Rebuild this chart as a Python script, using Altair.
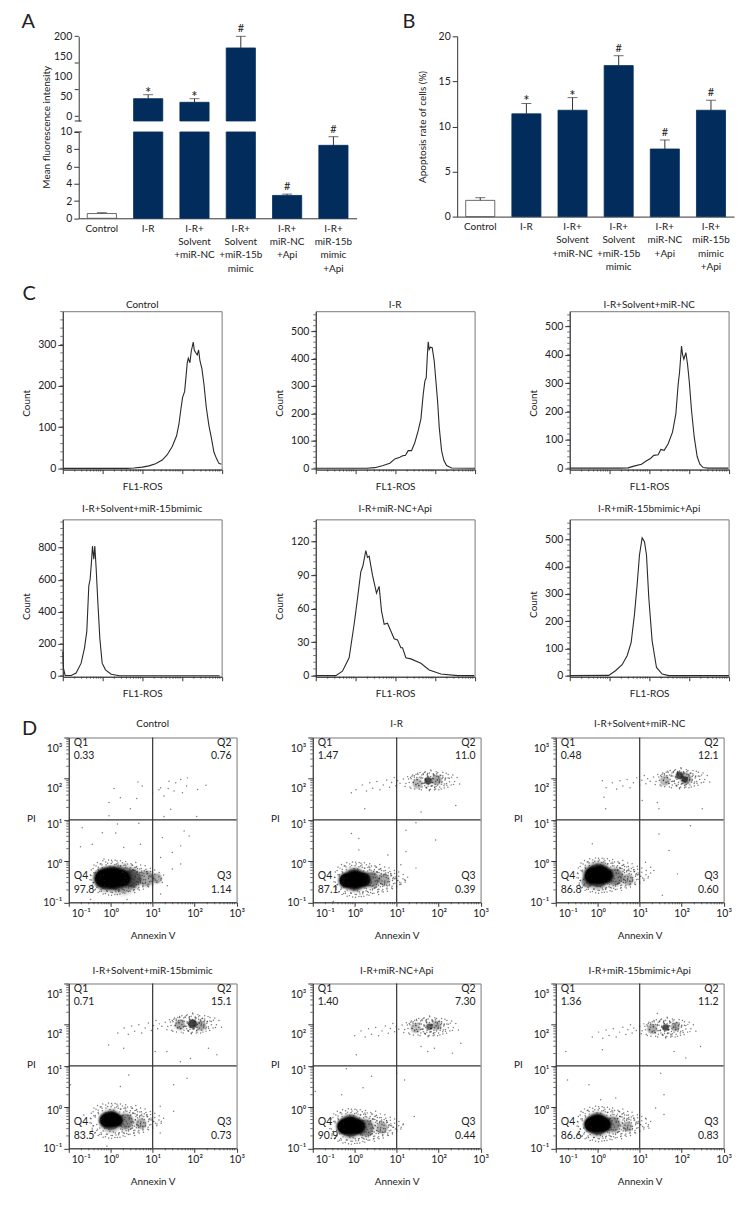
import math
import altair as alt
import pandas as pd

FONT = "Lato"
FS = 10
TICK_FS = 10.5
DARK = "#333333"
TXT = "#222222"
NAVY = "#022c5c"
FRAME = "#777777"

# ---------- panels A and B ----------
groups = ["Control", "I-R", "I-R+|Solvent|+miR-NC", "I-R+|Solvent|+miR-15b|mimic",
          "I-R+|miR-NC|+Api", "I-R+|miR-15b|mimic|+Api"]
a_mean = [0.55, 44, 35, 171, 2.65, 8.45]
a_err = [0.65, 54, 44, 200, 2.8, 9.45]
a_sig = ["", "*", "*", "#", "#", "#"]
b_mean = [1.8, 11.4, 11.8, 16.75, 7.5, 11.8]
b_err = [2.1, 12.55, 13.2, 17.85, 8.5, 12.9]
b_sig = ["", "*", "*", "#", "#", "#"]
a_upper_labels = [0, 50, 100, 150, 200]
a_upper_marks = [0, 66.7, 133.3, 200]
ROW1_TOP = 25.7


def left_y(title=None, **kw):
    return alt.Axis(title=title, domainColor=DARK, tickColor=DARK, labelPadding=2, tickSize=5, **kw)


def x_band(show):
    ax = alt.Axis(title=None, labelAngle=0, ticks=False, labelPadding=5, labelExpr="split(datum.label,'|')",
                  labelLineHeight=13.4, labelLimit=0, labelOverlap=False, domainColor=DARK, labelFontSize=FS) if show else None
    return alt.X("g:N", sort=groups, axis=ax,
                 scale=alt.Scale(domain=groups, paddingInner=0.37, paddingOuter=0.185))


def make_bar_panel(df, err_df, yscale, yaxis, w, h, show_x, y2_datum=None, extra=None):
    x_ax = x_band(show_x)
    enc = dict(x=x_ax, y=alt.Y("v:Q", scale=yscale, axis=yaxis),
               fill=alt.condition("datum.g=='Control'", alt.value("white"), alt.value(NAVY)),
               stroke=alt.condition("datum.g=='Control'", alt.value("#444444"), alt.value(NAVY)))
    if y2_datum is not None:
        enc["y2"] = alt.Y2(datum=y2_datum)
    layers = [alt.Chart(df).mark_bar(strokeWidth=0.8).encode(**enc)]
    ey = alt.Y("v:Q", scale=yscale, axis=yaxis)
    ey2 = alt.Y("e:Q", scale=yscale, axis=yaxis)
    layers.append(alt.Chart(err_df).mark_rule(color=DARK, strokeWidth=1).encode(
        x=x_ax, y=ey, y2=alt.Y2("e:Q")))
    layers.append(alt.Chart(err_df).mark_tick(color=DARK, size=10, thickness=1, orient="horizontal").encode(
        x=x_ax, y=ey2))
    sig = err_df[err_df["s"] != ""]
    layers.append(alt.Chart(sig[sig["s"] == "#"]).mark_text(font=FONT, fontSize=11, color=TXT, dy=-7).encode(
        x=x_ax, y=ey2, text="s:N"))
    layers.append(alt.Chart(sig[sig["s"] == "*"]).mark_text(font=FONT, fontSize=15, color=TXT, dy=-2).encode(
        x=x_ax, y=ey2, text="s:N"))
    if extra:
        layers += extra
    return alt.layer(*layers).properties(width=w, height=h)


def ghost(x1, x2, y1, y2):
    return alt.Chart(pd.DataFrame({"k": [0]})).mark_rule(opacity=0, strokeWidth=0).encode(
        x=alt.value(x1), x2=alt.value(x2), y=alt.value(y1), y2=alt.value(y2))


def break_tick(y):
    return alt.Chart(pd.DataFrame({"k": [0]})).mark_rule(color=DARK).encode(
        x=alt.value(-4), x2=alt.value(3), y=alt.value(y))


def letter(txt, x, y):
    return alt.Chart(pd.DataFrame({"k": [txt]})).mark_text(
        font=FONT, fontSize=20, color=TXT, align="left", baseline="middle").encode(
        x=alt.value(x), y=alt.value(y), text="k:N")


def caption(txt, x, y, angle=0):
    return alt.Chart(pd.DataFrame({"k": [txt]})).mark_text(
        font=FONT, fontSize=FS, color=TXT, align="center", baseline="middle", angle=angle).encode(
        x=alt.value(x), y=alt.value(y), text="k:N")


def spacer(w, top, bottom, *more):
    return alt.layer(ghost(0, w, -top, bottom), *more).properties(width=w, height=10)


dfa = pd.DataFrame({"g": groups, "v": a_mean, "e": a_err, "s": a_sig})
dfb = pd.DataFrame({"g": groups, "v": b_mean, "e": b_err, "s": b_sig})

up_scale = alt.Scale(domain=[-11.75, 200], nice=False, zero=False)
up_axis = alt.Axis(title=None, values=a_upper_labels, ticks=False, labelPadding=7, domainColor=DARK)
up_marks = alt.Chart(pd.DataFrame({"m": a_upper_marks})).mark_rule(color=DARK).encode(
    x=alt.value(-4), x2=alt.value(0), y=alt.Y("m:Q", scale=up_scale, axis=up_axis))
a_upper = make_bar_panel(dfa[dfa.v > 10], dfa[dfa.v > 10], up_scale, up_axis, 279, 85, False, y2_datum=-11.75,
                         extra=[up_marks, break_tick(85), ghost(-26, 291, -ROW1_TOP, 85)])
lo_scale = alt.Scale(domain=[0, 10], nice=False, clamp=True)
lo_axis = left_y(None, values=[0, 2, 4, 6, 8, 10])
a_lower = make_bar_panel(dfa, dfa[dfa.v <= 10], lo_scale, lo_axis, 279, 86.7, True,
                         extra=[break_tick(0), ghost(-26, 291, -9.3, 149)])
panel_a = alt.vconcat(a_upper, a_lower, spacing=0)

b_scale = alt.Scale(domain=[0, 20], nice=False)
b_axis = left_y(None, values=[0, 5, 10, 15, 20])
panel_b = make_bar_panel(dfb, dfb, b_scale, b_axis, 278, 181, True,
                         extra=[ghost(-89, 288, -ROW1_TOP, 243.3), letter("B", -55, -14),
                                caption("Apoptosis rate of cells (%)", -34, 91, angle=270)])
row1 = alt.concat(
    spacer(45, ROW1_TOP, 243.3, letter("A", 13.5, -14), caption("Mean fluorescence intensity", 38.7, 91.3, angle=270)),
    panel_a, panel_b, columns=3, spacing=0, align="none")

# ---------- panel C: histograms, x is channel position along the log axis ----------
c1_x = [3, 193, 213, 238, 258, 278, 298, 313, 328, 341, 348, 354, 359, 365, 369, 373, 376, 381, 385, 391, 394, 398, 403, 407, 411, 417, 423, 430, 438, 445, 453, 461, 468, 475]
c1_y = [0, 0, 1, 3, 6, 11, 20, 33, 53, 79, 107, 144, 172, 186, 220, 256, 267, 256, 284, 306, 287, 281, 275, 287, 261, 241, 204, 148, 103, 75, 39, 23, 12, 10]
c2_x = [2, 152, 177, 202, 222, 237, 252, 262, 269, 277, 287, 297, 307, 315, 322, 327, 331, 334, 337, 340, 344, 349, 355, 360, 365, 370, 377, 384, 392, 407, 477]
c2_y = [0, 0, 2, 10, 18, 34, 40, 46, 47, 64, 64, 94, 137, 179, 270, 318, 330, 403, 461, 433, 442, 440, 391, 318, 246, 149, 64, 28, 10, 1, 0]
c3_x = [2, 150, 175, 195, 215, 230, 242, 252, 265, 273, 283, 295, 308, 318, 325, 329, 335, 338, 342, 348, 353, 358, 365, 373, 382, 390, 400, 415, 475]
c3_y = [0, 0, 1, 8, 14, 26, 34, 45, 47, 66, 63, 86, 127, 191, 296, 337, 430, 401, 384, 407, 366, 308, 203, 110, 40, 14, 2, 0, 0]
c4_x = [0, 2, 7, 25, 40, 55, 65, 72, 78, 82, 86, 89, 93, 96, 100, 105, 111, 118, 128, 145, 170, 470]
c4_y = [152, 48, 2, 2, 17, 79, 173, 277, 562, 603, 713, 811, 728, 811, 672, 464, 235, 79, 37, 10, 0, 0]
c5_x = [0, 60, 80, 100, 115, 125, 135, 141, 150, 155, 160, 170, 182, 190, 197, 205, 215, 225, 235, 245, 255, 260, 270, 285, 315, 340, 375, 425, 475]
c5_y = [0, 0, 4, 16, 46, 69, 93, 98, 112, 106, 107, 90, 74, 80, 58, 46, 47, 40, 33, 32, 25, 25, 16, 15, 11, 5, 1.5, 0, 0]
c6_x = [2, 117, 137, 157, 172, 184, 194, 202, 209, 217, 224, 230, 237, 247, 260, 277, 297, 477]
c6_y = [0, 1, 18, 40, 73, 121, 225, 334, 443, 506, 492, 443, 285, 127, 30, 6, 0, 0]

C_W, C_DEC = 159.5, 119
c_major_x = [0, 119, 238, 357, 476]
c_minor_x = [d * C_DEC + C_DEC * math.log10(k) for d in range(4) for k in range(2, 10)]


def hist(title, xs, ys, ydom, major, minor_step, h, title_y, count_y, extra=None):
    sx = alt.Scale(domain=[0, 476], nice=False, zero=False)
    sy = alt.Scale(domain=ydom, nice=False, zero=False)
    xax = alt.Axis(title="FL1-ROS", values=c_major_x, labels=False, tickSize=4, tickColor=DARK, domainColor=DARK,
                   titleY=17, titleBaseline="middle")
    yax = left_y("Count", values=major, titleX=-36, titleY=count_y, titleBaseline="middle", titleAngle=-90)
    X = alt.X("x:Q", scale=sx, axis=xax)
    Y = alt.Y("y:Q", scale=sy, axis=yax)
    line = alt.Chart(pd.DataFrame({"x": xs, "y": ys})).mark_line(color="#2a2a2a", strokeWidth=1.1).encode(x=X, y=Y)
    minor_y = [v for v in [i * minor_step for i in range(0, 40)] if v <= ydom[1]]
    xm = alt.Chart(pd.DataFrame({"x": c_minor_x})).mark_rule(color=DARK, strokeWidth=0.7).encode(
        x=X, y=alt.value(h), y2=alt.value(h + 2))
    ym = alt.Chart(pd.DataFrame({"y": minor_y})).mark_rule(color=DARK, strokeWidth=0.7).encode(
        y=Y, x=alt.value(-2.5), x2=alt.value(0))
    layers = [line, xm, ym, caption(title, C_W / 2, title_y)] + (extra or [])
    return alt.layer(*layers).properties(width=C_W, height=h, view=alt.ViewBackground(stroke=FRAME))


def cells(left, right, top, bottom, *more):
    return [ghost(-left, right, -top, bottom)] + list(more)


c_cols = [(52, 208), (44, 206), (46.7, 178.3)]
row_c1 = alt.concat(
    spacer(2, 30, 185),
    hist("Control", c1_x, c1_y, [-3, 381], [0, 100, 200, 300], 20, 159, -6, 92,
         extra=cells(c_cols[0][0], c_cols[0][1], 30, 185, letter("C", -40.5, -17.5))),
    hist("I-R", c2_x, c2_y, [-5, 573], [0, 100, 200, 300, 400, 500], 20, 159, -6, 92,
         extra=cells(c_cols[1][0], c_cols[1][1], 30, 185)),
    hist("I-R+Solvent+miR-NC", c3_x, c3_y, [-5, 553], [0, 100, 200, 300, 400, 500], 20, 159, -6, 92,
         extra=cells(c_cols[2][0], c_cols[2][1], 30, 185)),
    columns=4, spacing=0, align="none")
row_c2 = alt.concat(
    spacer(2, 22.5, 192.5),
    hist("I-R+Solvent+miR-15bmimic", c4_x, c4_y, [-6, 977], [0, 200, 400, 600, 800], 40, 158, -10, 87,
         extra=cells(c_cols[0][0], c_cols[0][1], 22.5, 192.5)),
    hist("I-R+miR-NC+Api", c5_x, c5_y, [-1, 140], [0, 30, 60, 90, 120], 6, 158, -10, 87,
         extra=cells(c_cols[1][0], c_cols[1][1], 22.5, 192.5)),
    hist("I-R+miR-15bmimic+Api", c6_x, c6_y, [-4, 574], [0, 100, 200, 300, 400, 500], 20, 158, -10, 85,
         extra=cells(c_cols[2][0], c_cols[2][1], 22.5, 192.5)),
    columns=4, spacing=0, align="none")

# ---------- panel D: quadrant scatter plots, log10 units ----------
blob_grain = [(-.47, .05), (-.44, -.18), (-.42, .22), (-.38, -.3), (-.35, .28), (-.3, -.36), (-.25, .33), (-.18, -.4), (-.12, .38), (-.05, -.42), (.02, .42), (.1, -.41), (.15, .4), (.22, -.4), (.28, .36), (.34, -.38), (.4, .33), (.46, -.33), (.52, .3), (.57, -.36), (.62, .27), (.68, -.3), (.73, .22), (.78, -.28), (.84, .2), (.9, -.22), (.95, .15), (1.0, -.18), (1.05, .08), (1.1, -.12), (1.15, .02), (.6, .1), (.75, .05), (.9, -.02), (.66, -.12), (.82, -.14), (.98, .02), (.5, -.18), (.45, .2), (.35, .24), (-.4, .12), (-.46, -.06), (1.2, -.06), (.72, .13), (.55, -.24), (.88, .1), (.3, -.29), (.18, .3), (-.22, -.33), (-.3, .2)]
blob_fill = [(-.41, -.12), (-.37, .09), (-.33, -.24), (-.29, .17), (-.26, -.03), (-.23, -.29), (-.2, .24), (-.17, .07), (-.14, -.19), (-.11, .31), (-.08, -.33), (-.05, .2), (-.02, -.26), (.01, .34), (.04, -.36), (.07, .26), (.11, -.3), (.14, .33), (.19, -.34), (.23, .28), (.27, -.27), (.31, .21), (.33, -.13), (.36, .29), (.38, -.31), (.41, .13), (.43, -.22), (.47, .24), (.49, -.04), (.53, .19), (.56, -.29), (.59, .02), (.61, -.17), (.64, .22), (.67, -.24), (.69, .09), (.71, -.07), (.74, .16), (.77, -.2), (.8, .03), (.83, -.11), (.86, .14), (.89, -.16), (.92, .05), (.96, -.09), (1.01, -.02), (1.07, -.06), (.44, .07), (.52, -.12), (.63, .13), (.37, -.02), (.58, .17), (.7, -.14), (.79, .1), (.28, .12), (.24, -.2), (.34, .08), (.48, .14), (.55, -.05), (.65, -.03)]
cluster_grain = [(-.7, -.06), (-.62, .04), (-.58, -.14), (-.52, .1), (-.48, -.04), (-.44, -.18), (-.4, .14), (-.36, .02), (-.32, -.1), (-.28, .18), (-.24, -.2), (-.2, .06), (-.16, -.06), (-.12, .2), (-.08, -.16), (-.04, .1), (0, -.22), (.04, .24), (.08, -.04), (.12, .14), (.16, -.14), (.2, .2), (.24, .02), (.28, -.2), (.32, .12), (.36, -.08), (.4, .18), (.44, -.16), (.48, .06), (.52, -.1), (.56, .14), (.6, -.02), (.66, .08), (.72, -.08), (-.1, .02), (-.3, .08), (.1, .05), (.3, -.02), (.05, -.12), (-.18, .14), (.22, .1), (-.05, .16), (-.45, .08), (.38, .05), (.15, -.2)]
tail_grain = [(-1.75, -.22), (-1.6, -.1), (-1.5, -.25), (-1.42, -.05), (-1.35, -.18), (-1.25, -.02), (-1.18, -.22), (-1.1, -.1), (-1.02, .02), (-.95, -.16), (-.9, -.04), (-.84, .08), (-.8, -.12), (-.76, .0)]

d_control = dict(
    title="Control", q=["0.33", "0.76", "1.14", "97.8"], blob_c=(0, -.4), cluster_c=None,
    blobs=[(.3, -.45, 38, .2), (.85, -.42, 22, .2), (1.1, -.42, 14, .18), (.5, -.42, 26, .35), (-.1, -.45, 30, .35), (.1, -.42, 32, .35),
           (-.18, -.42, 24, 1), (-.05, -.4, 27, 1), (.1, -.4, 27, 1), (.28, -.42, 22, 1)],
    dots=[(.08, 1.76), (.65, 1.92), (.75, 1.82), (1, 1.65), (1.15, 1.73), (1.37, 1.76), (1.39, 1.94), (1.55, 1.9), (1.67, 1.98), (1.83, 2.02), (1.81, 1.82), (2.07, 1.74), (2.27, 1.84), (1.19, 1.78), (1.27, 1.58), (1.51, 1.7), (1.71, 1.66), (-.04, 1.42), (.23, 1.54), (.62, 1.52), (.47, 1.27), (-.04, 1.1), (1.43, 1.26), (2.05, 1.08), (1.27, 1.08), (-.68, .81), (.16, .9), (.67, .92), (-.2, .69), (.12, .68), (-.72, .35), (-.44, .41), (.31, .33), (.71, .41), (1.23, .57), (1.75, .73), (1.87, .61), (1.67, .37), (1.47, .21), (1.19, .09), (1.67, -.07), (1.47, -.19), (1.35, -.6), (1.23, -.52), (-.48, -.93), (.39, -.93), (1.19, -.8), (-.16, .05)])
d_ir = dict(
    title="I-R", q=["1.47", "11.0", "0.39", "87.1"], blob_c=(0, -.45), cluster_c=(1.78, 1.95),
    blobs=[(.7, -.45, 16, .2), (.4, -.45, 22, .3), (0, -.45, 30, .4), (-.2, -.47, 20, .9), (0, -.45, 25, .95), (.2, -.45, 20, .85),
           (1.5, 1.88, 14, .15), (1.95, 1.97, 14, .2), (1.75, 1.95, 10, .5)],
    dots=[(-.08, .67), (.1, .55), (.1, .27), (.24, 1.27), (.79, .15), (1.22, .75), (1.46, .93), (1.93, .51), (1.22, .23), (1.46, -.17), (1.1, -.09), (1.19, -.45), (1.07, -.57), (1.58, 1.19), (2.41, 1.35), (-.51, -.98), (-.08, 1.66)])
d_nc = dict(
    title="I-R+Solvent+miR-NC", q=["0.48", "12.1", "0.60", "86.8"], blob_c=(0, -.35), cluster_c=(1.95, 2.0),
    blobs=[(.72, -.45, 16, .18), (-.25, -.5, 16, .25), (.4, -.38, 24, .3), (0, -.35, 34, .4), (-.12, -.35, 23, .95), (.05, -.33, 26, .95), (.2, -.35, 19, .8),
           (1.6, 1.95, 14, .15), (2.1, 2, 16, .2), (1.95, 2.08, 10, .5), (2.08, 1.98, 8, .45)],
    dots=[(.15, 1.55), (.19, 1.27), (-.13, .42), (1.7, .26), (2.21, .86), (1.46, .66), (1.14, -.03), (1.26, -.15), (1.9, -.31), (1.34, -.23), (1.54, -.83), (1.42, 1.42), (2.49, 1.27), (1.46, 1.27), (1.06, 1.47), (.11, 1.95)])
d_15b = dict(
    title="I-R+Solvent+miR-15bmimic", q=["0.71", "15.1", "0.73", "83.5"], blob_c=(0, -.33), cluster_c=(1.92, 2.02),
    blobs=[(.72, -.4, 15, .18), (.35, -.35, 22, .3), (0, -.33, 28, .4), (-.1, -.32, 19, .9), (.03, -.3, 21, .95), (.15, -.32, 16, .8),
           (1.65, 2.0, 14, .2), (2.15, 1.98, 14, .2), (1.95, 2.02, 12, .55)],
    dots=[(-.05, 1.51), (.31, 1.43), (.43, .78), (.23, .5), (1.5, .54), (1.82, .7), (1.18, .02), (1.5, -.1), (1.18, -.63), (1.34, 1.35), (1.66, 1.1), (2.33, 1.43), (2.53, 1.27), (1.9, 1.18), (-.09, -.95), (-.96, .54), (-.64, -.19), (1.06, 1.35)])
d_api = dict(
    title="I-R+miR-NC+Api", q=["1.40", "7.30", "0.44", "90.9"], blob_c=(-.1, -.47), cluster_c=(1.75, 1.95),
    blobs=[(.65, -.5, 16, .18), (.25, -.5, 24, .3), (-.1, -.47, 30, .4), (-.25, -.47, 20, .95), (-.1, -.45, 25, .95), (.08, -.47, 20, .85),
           (1.45, 1.92, 14, .14), (1.95, 1.98, 13, .18), (1.78, 1.95, 9, .4)],
    dots=[(-.2, .93), (.2, .47), (-.31, .3), (.4, .75), (1.19, .66), (1, .82), (1.42, -.23), (1.15, -.43), (.04, 1.27), (1.58, 1.47), (1.9, 1.43), (2.53, 1.55), (2.33, 1.31), (1.74, 1.35), (-.94, .38)])
d_15api = dict(
    title="I-R+miR-15bmimic+Api", q=["1.36", "11.2", "0.83", "86.6"], blob_c=(0, -.41), cluster_c=(1.62, 1.92),
    blobs=[(.7, -.47, 14, .18), (.35, -.42, 22, .28), (0, -.42, 30, .42), (-.15, -.42, 20, .95), (0, -.4, 25, .95), (.15, -.42, 19, .85),
           (1.3, 1.9, 14, .18), (1.85, 1.95, 12, .2), (1.62, 1.93, 9, .5)],
    dots=[(-.72, .66), (-.21, .54), (.07, .18), (.43, .22), (.11, 1.39), (-.76, 1.35), (1.5, .82), (1.58, .3), (1.38, -.02), (1.58, -.18), (1.14, -.27), (2.1, 1.19), (2.45, 1.47), (1.42, 2.27), (1.82, 1.35), (1.22, -.51)])

d_minor = [d + math.log10(k) for d in range(-1, 3) for k in range(2, 10)]
sup_expr = ("datum.value==-1?'10⁻¹':datum.value==0?'10⁰':datum.value==1?'10¹':"
            "datum.value==2?'10²':'10³'")
x_label_shift = {"condition": {"test": "datum.value==-1", "value": 12}, "value": 0}
y_label_shift = {"condition": [{"test": "datum.value==3", "value": 11}, {"test": "datum.value==2", "value": 10},
                               {"test": "datum.value==1", "value": 5}, {"test": "datum.value==0", "value": 3}],
                 "value": 0}
STACK = [(1.08, .12), (1.0, .18), (.92, .26), (.84, .4), (.76, 1.0)]


def scatter(p, h, title_y, extra=None):
    w = 168.5
    sx = alt.Scale(domain=[-1, 3], nice=False, zero=False)
    sy = alt.Scale(domain=[-1, 3], nice=False, zero=False)
    xax = alt.Axis(title="Annexin V", values=[-1, 0, 1, 2, 3], labelExpr=sup_expr, tickSize=4, tickColor=DARK,
                   domainColor=DARK, labelPadding=2, titleY=33, titleBaseline="middle",
                   labelOffset=x_label_shift, labelFlush=False)
    yax = left_y("PI", values=[-1, 0, 1, 2, 3], labelExpr=sup_expr, titleX=-38, titleY=81, titleAngle=0,
                 titleBaseline="middle", labelOffset=y_label_shift, labelFlush=False)
    X = alt.X("x:Q", scale=sx, axis=xax)
    Y = alt.Y("y:Q", scale=sy, axis=yax)
    rows = [(x, y, (d * f) ** 2 * 0.7854, o * m) for x, y, d, o in p["blobs"] for f, m in STACK]
    bl = pd.DataFrame(rows, columns=["x", "y", "s", "o"])
    blobs = alt.Chart(bl).mark_circle(color="black").encode(
        x=X, y=Y, size=alt.Size("s:Q", scale=None), opacity=alt.Opacity("o:Q", scale=None))
    bc = p["blob_c"]
    pts = list(p["dots"])
    pts += [(bc[0] + a, bc[1] + b) for a, b in blob_grain]
    pts += [(bc[0] + a, bc[1] + b) for a, b in blob_fill]
    pts += [(bc[0] + a * .9, bc[1] - b * 1.05) for a, b in blob_fill]
    pts += [(bc[0] + a * 1.05, bc[1] - b * 1.02) for a, b in blob_grain]
    if p["cluster_c"]:
        cc = p["cluster_c"]
        pts += [(cc[0] + a, cc[1] + b) for a, b in cluster_grain]
        pts += [(cc[0] + a * 0.8, cc[1] + b * 1.1) for a, b in cluster_grain]
        pts += [(cc[0] + a * .62, cc[1] - b * .85) for a, b in cluster_grain]
        pts += [(cc[0] + a, cc[1] + b) for a, b in tail_grain]
    dots = alt.Chart(pd.DataFrame(pts, columns=["x", "y"])).mark_circle(color="#222222", size=2.2, opacity=0.6).encode(x=X, y=Y)
    vline = alt.Chart(pd.DataFrame({"x": [1]})).mark_rule(color=DARK, strokeWidth=1.2).encode(x=X)
    hline = alt.Chart(pd.DataFrame({"y": [1]})).mark_rule(color=DARK, strokeWidth=1.2).encode(y=Y)
    xm = alt.Chart(pd.DataFrame({"x": d_minor})).mark_rule(color=DARK, strokeWidth=0.7).encode(
        x=X, y=alt.value(h), y2=alt.value(h + 2))
    ym = alt.Chart(pd.DataFrame({"y": d_minor})).mark_rule(color=DARK, strokeWidth=0.7).encode(
        y=Y, x=alt.value(-2.5), x2=alt.value(0))
    ql = pd.DataFrame({
        "x": [-.88, -.88, 2.88, 2.88, 2.88, 2.88, -.88, -.88],
        "y": [2.87, 2.54, 2.87, 2.54, -.36, -.69, -.36, -.69],
        "a": ["left", "left", "right", "right", "right", "right", "left", "left"],
        "t": ["Q1", p["q"][0], "Q2", p["q"][1], "Q3", p["q"][2], "Q4", p["q"][3]]})
    q_left = alt.Chart(ql[ql.a == "left"]).mark_text(font=FONT, fontSize=TICK_FS, color=TXT, align="left", baseline="middle").encode(x=X, y=Y, text="t:N")
    q_right = alt.Chart(ql[ql.a == "right"]).mark_text(font=FONT, fontSize=TICK_FS, color=TXT, align="right", baseline="middle").encode(x=X, y=Y, text="t:N")
    layers = [blobs, dots, vline, hline, xm, ym, q_left, q_right, caption(p["title"], w / 2, title_y)] + (extra or [])
    return alt.layer(*layers).properties(width=w, height=h, view=alt.ViewBackground(stroke=FRAME))


d_cols = [(58.3, 191.7), (51, 189), (53.3, 191.7)]
row_d1 = alt.concat(
    spacer(2, 24.7, 223.3),
    scatter(d_control, 165.5, -13.7, extra=cells(d_cols[0][0], d_cols[0][1], 24.7, 223.3, letter("D", -47, -8))),
    scatter(d_ir, 165.5, -13.7, extra=cells(d_cols[1][0], d_cols[1][1], 24.7, 223.3)),
    scatter(d_nc, 165.5, -13.7, extra=cells(d_cols[2][0], d_cols[2][1], 24.7, 223.3)),
    columns=4, spacing=0, align="none")
row_d2 = alt.concat(
    spacer(2, 21.7, 228.3),
    scatter(d_15b, 165.5, -12.7, extra=cells(d_cols[0][0], d_cols[0][1], 21.7, 228.3)),
    scatter(d_api, 165.5, -12.7, extra=cells(d_cols[1][0], d_cols[1][1], 21.7, 228.3)),
    scatter(d_15api, 165.5, -12.7, extra=cells(d_cols[2][0], d_cols[2][1], 21.7, 228.3)),
    columns=4, spacing=0, align="none")

chart = (alt.concat(row1, row_c1, row_c2, row_d1, row_d2, columns=1, spacing=0, align="none")
         .properties(padding=0)
         .configure_view(stroke=None)
         .configure_axis(labelFont=FONT, titleFont=FONT, labelFontSize=TICK_FS, titleFontSize=FS, titleFontWeight="normal",
                         labelColor=TXT, titleColor=TXT, grid=False))

chart.save("out.html", embed_options={"renderer": "svg", "actions": False})
